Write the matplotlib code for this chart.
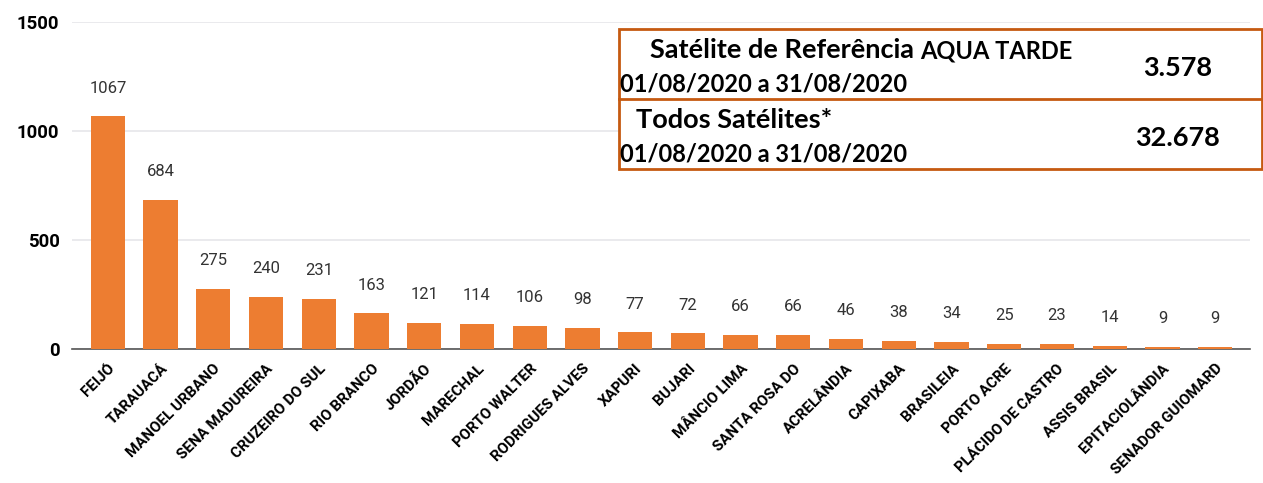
import matplotlib.pyplot as plt
import matplotlib.transforms as mtransforms
import numpy as np
from matplotlib.patches import Rectangle
from matplotlib.lines import Line2D

municipios = [
    "FEIJÓ", "TARAUACÁ", "MANOEL URBANO", "SENA MADUREIRA", "CRUZEIRO DO SUL",
    "RIO BRANCO", "JORDÃO", "MARECHAL", "PORTO WALTER", "RODRIGUES ALVES",
    "XAPURI", "BUJARI", "MÂNCIO LIMA", "SANTA ROSA DO", "ACRELÂNDIA",
    "CAPIXABA", "BRASILEIA", "PORTO ACRE", "PLÁCIDO DE CASTRO", "ASSIS BRASIL",
    "EPITACIOLÂNDIA", "SENADOR GUIOMARD",
]
focos = [1067, 684, 275, 240, 231, 163, 121, 114, 106, 98, 77, 72, 66, 66,
         46, 38, 34, 25, 23, 14, 9, 9]
yticks = [0, 500, 1000, 1500]

box_rows = [
    ("Satélite de Referência", "AQUA TARDE", "01/08/2020 a 31/08/2020", "3.578"),
    ("Todos Satélites*", "", "01/08/2020 a 31/08/2020", "32.678"),
]

W, H = 1263, 483
fig = plt.figure(figsize=(W / 100, H / 100), dpi=100)
ax = fig.add_axes([72 / W, 1 - 349 / H, (1250 - 72) / W, (349 - 22) / H])

x = np.arange(len(municipios))
ax.bar(x, focos, width=0.65, color="#ED7D31", zorder=3)
for xi, v in zip(x, focos):
    ax.text(xi, v + 95, str(v), ha="center", va="bottom", fontsize=12,
            color="#333333", family="Roboto")

ax.set_ylim(0, 1500)
ax.set_xlim(-0.68, len(municipios) - 1 + 0.66)
ax.set_yticks(yticks)
ax.set_yticklabels([str(t) for t in yticks], fontsize=13.4, fontweight="bold",
                   family="Roboto")
ax.set_xticks(x)
ax.set_xticklabels(municipios, rotation=45, ha="right", rotation_mode="anchor",
                   fontsize=10.8, fontweight="bold", family="Roboto")
shift = mtransforms.ScaledTranslation(4 / 100, 0, fig.dpi_scale_trans)
for lab in ax.get_xticklabels():
    lab.set_transform(lab.get_transform() + shift)
ax.tick_params(axis="x", length=0, pad=9)
ax.tick_params(axis="y", length=0, pad=9)
ax.grid(True, axis="y", color="#e6e6ea", linewidth=1.2)
ax.set_axisbelow(True)
for s in ["top", "right", "left"]:
    ax.spines[s].set_visible(False)
ax.spines["bottom"].set_color("#555555")
ax.spines["bottom"].set_linewidth(1.2)

# info box (pixel coords -> figure fraction)
def fx(px):
    return px / W

def fy(py):
    return 1 - py / H

box_color = "#C55A11"
fig.patches.append(Rectangle((fx(619), fy(169)), fx(1262) - fx(619), fy(29) - fy(169),
                             transform=fig.transFigure, facecolor="white",
                             edgecolor=box_color, linewidth=2, zorder=5))
fig.lines.append(Line2D([fx(619), fx(1262)], [fy(99), fy(99)],
                        transform=fig.transFigure, color=box_color, linewidth=2, zorder=6))

font = "Lato"
row_y = [29, 99]
for (title, extra, dates, total), y0 in zip(box_rows, row_y):
    title_x = 650 if extra else 636
    t = fig.text(fx(title_x), fy(y0 + 21), title, fontsize=19.5, fontweight="bold",
                 family=font, va="center", ha="left", zorder=7)
    if extra:
        fig.canvas.draw()
        bb = t.get_window_extent()
        fig.text(bb.x1 / W + fx(6), fy(y0 + 22), extra, fontsize=17,
                 fontweight="bold", family=font, va="center", ha="left", zorder=7)
    fig.text(fx(620), fy(y0 + 55), dates, fontsize=17, fontweight="bold",
             family=font, va="center", ha="left", zorder=7)
    fig.text(fx(1178), fy(y0 + 39), total, fontsize=19.5, fontweight="bold",
             family=font, va="center", ha="center", zorder=7)

fig.savefig("out.png", dpi=100)
